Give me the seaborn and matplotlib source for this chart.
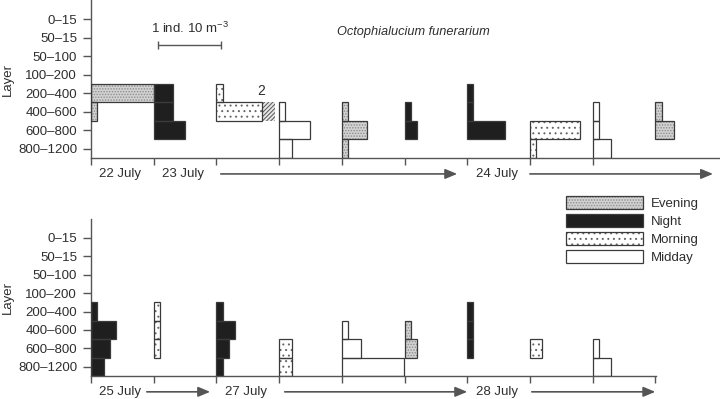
import matplotlib
matplotlib.use("Agg")
import matplotlib.pyplot as plt
from matplotlib.patches import Patch
import seaborn as sns

# ---- data -------------------------------------------------------------
layers = ["0–15", "50–15", "50–100", "100–200", "200–400", "400–600", "600–800", "800–1200"]
periods = ["Evening", "Night", "Morning", "Midday"]

# abundance (ind. 10 m^-3) per layer, one list per sampling slot
top_periods = ["Evening", "Night", "Morning", "Midday", "Evening",
               "Night", "Night", "Morning", "Midday", "Evening"]
top_values = [
    [0, 0, 0, 0, 1.0, 0.1, 0, 0],
    [0, 0, 0, 0, 0.3, 0.3, 0.5, 0],
    [0, 0, 0, 0, 0.1, 2.0, 0, 0],
    [0, 0, 0, 0, 0, 0.1, 0.5, 0.2],
    [0, 0, 0, 0, 0, 0.1, 0.4, 0.1],
    [0, 0, 0, 0, 0, 0.1, 0.2, 0],
    [0, 0, 0, 0, 0.1, 0.1, 0.6, 0],
    [0, 0, 0, 0, 0, 0, 0.8, 0.1],
    [0, 0, 0, 0, 0, 0.1, 0.1, 0.3],
    [0, 0, 0, 0, 0, 0.1, 0.3, 0],
]
bottom_periods = ["Night", "Morning", "Night", "Morning", "Midday",
                  "Evening", "Night", "Morning", "Midday"]
bottom_values = [
    [0, 0, 0, 0, 0.1, 0.4, 0.3, 0.2],
    [0, 0, 0, 0, 0.1, 0.1, 0.1, 0],
    [0, 0, 0, 0, 0.1, 0.3, 0.2, 0.1],
    [0, 0, 0, 0, 0, 0, 0.2, 0.2],
    [0, 0, 0, 0, 0, 0.1, 0.3, 1.0],
    [0, 0, 0, 0, 0, 0.1, 0.2, 0],
    [0, 0, 0, 0, 0.1, 0.1, 0.1, 0],
    [0, 0, 0, 0, 0, 0, 0.2, 0],
    [0, 0, 0, 0, 0, 0, 0.1, 0.3],
]
top_dates = ["22 July", "23 July", "24 July"]
top_date_pos = [0.47, 1.47, 6.48]
top_arrows = [(2.07, 5.84), (7.0, 9.92)]
bottom_dates = ["25 July", "27 July", "28 July"]
bottom_date_pos = [0.47, 2.47, 6.48]
bottom_arrows = [(0.89, 1.90), (3.09, 6.0), (7.03, 9.0)]

# ---- style ------------------------------------------------------------
sns.set_style("ticks")
plt.rcParams["font.family"] = ["Liberation Sans", "DejaVu Sans"]
plt.rcParams["mathtext.fontset"] = "custom"
plt.rcParams["mathtext.rm"] = "Liberation Sans"
plt.rcParams["hatch.linewidth"] = 0.7

EDGE = "#3a3a3a"
AXC = "#555555"
TXT = "#2e2e2e"
styles = {
    "Evening": dict(face="#d2d2d2", hatch="......", hcol="#8c8c8c"),
    "Night": dict(face="#1f1f1f", hatch=None, hcol="#1f1f1f"),
    "Morning": dict(face="white", hatch="...", hcol="#666666"),
    "Midday": dict(face="white", hatch=None, hcol="white"),
}
BREAK_AT, BREAK_END = 0.73, 0.94   # bars above 1 unit are cut short


def draw_bar(ax, row, left, width, period):
    st = styles[period]
    ax.barh(row, width, left=left, height=1.0, color=st["face"],
            hatch=st["hatch"], edgecolor=st["hcol"], linewidth=0, zorder=2)
    ax.barh(row, width, left=left, height=1.0, fill=False,
            edgecolor=EDGE, linewidth=0.9, zorder=3)


def draw_panel(ax, slot_periods, values, n_ticks, xmax, dates, date_pos, arrows, ylab_x):
    for slot, (period, vals) in enumerate(zip(slot_periods, values)):
        for row, v in enumerate(vals):
            if v <= 0:
                continue
            if v > 1:
                draw_bar(ax, row, slot, BREAK_AT, period)
                ax.barh(row, BREAK_END - BREAK_AT, left=slot + BREAK_AT, height=1.0,
                        color="#e6e6e6", hatch="////////", edgecolor="#555555",
                        linewidth=0, zorder=2)
                ax.text(slot + BREAK_AT - 0.01, row - 1.1, f"{v:g}", ha="center",
                        va="center", fontsize=10, color=TXT)
            else:
                draw_bar(ax, row, slot, v, period)

    ax.set_xlim(0, xmax)
    ax.set_ylim(7.5, -1.03)
    ax.set_xticks(range(n_ticks))
    ax.set_xticklabels([])
    ax.set_yticks(range(len(layers)))
    ax.set_yticklabels(layers)
    ax.tick_params(axis="y", length=6, width=1, color=AXC, pad=4,
                   labelsize=9.5, labelcolor=TXT)
    ax.tick_params(axis="x", length=5, width=1, color=AXC)
    for s in ["left", "bottom"]:
        ax.spines[s].set_color(AXC)
        ax.spines[s].set_linewidth(1)
    sns.despine(ax=ax)
    ax.set_ylabel("Layer", fontsize=9.5, color=TXT)
    ax.yaxis.set_label_coords(ylab_x, 0.5)

    ydate = 8.36
    for d, x in zip(dates, date_pos):
        ax.text(x, ydate, d, ha="center", va="center", fontsize=9.5,
                color=TXT, clip_on=False)
    for x0, x1 in arrows:
        ax.annotate("", xy=(x1, ydate), xytext=(x0, ydate), annotation_clip=False,
                    arrowprops=dict(arrowstyle="-|>,head_length=0.6,head_width=0.25",
                                    color=AXC, lw=1.2, shrinkA=0, shrinkB=0,
                                    mutation_scale=12))


fig = plt.figure(figsize=(7.2, 3.99), dpi=100)
ax1 = fig.add_axes([91 / 720, 1 - 158 / 399, 629 / 720, 158 / 399])
ax2 = fig.add_axes([91 / 720, 1 - 376 / 399, 565 / 720, 157 / 399])

draw_panel(ax1, top_periods, top_values, 9, 629 / 62.7, top_dates, top_date_pos,
           top_arrows, (14 - 91) / 629)
draw_panel(ax2, bottom_periods, bottom_values, 10, 565 / 62.7, bottom_dates,
           bottom_date_pos, bottom_arrows, (14 - 91) / 565)

# scale bar and species name
ax1.errorbar(1.57, 1.4, xerr=0.5, color=AXC, lw=1, capsize=3, capthick=1)
ax1.text(1.57, 0.5, "1 ind. 10 m$^{-3}$", ha="center", va="center",
         fontsize=9.5, color=TXT)
ax1.text(5.14, 0.68, "Octophialucium funerarium", ha="center", va="center",
         fontsize=9.2, style="italic", color=TXT)

# legend
handles = []
for p in periods:
    st = styles[p]
    handles.append((Patch(facecolor=st["face"], hatch=st["hatch"], edgecolor=st["hcol"], linewidth=0),
                    Patch(fill=False, edgecolor=EDGE, linewidth=0.9)))
fig.legend(handles, periods, loc="upper left", bbox_to_anchor=(566 / 720, 1 - 196 / 399),
           frameon=False, handlelength=5.8, handleheight=1.15, handletextpad=0.6,
           labelspacing=0.3, borderpad=0, borderaxespad=0, fontsize=9.5,
           labelcolor=TXT)

fig.savefig("out.png", dpi=100)
